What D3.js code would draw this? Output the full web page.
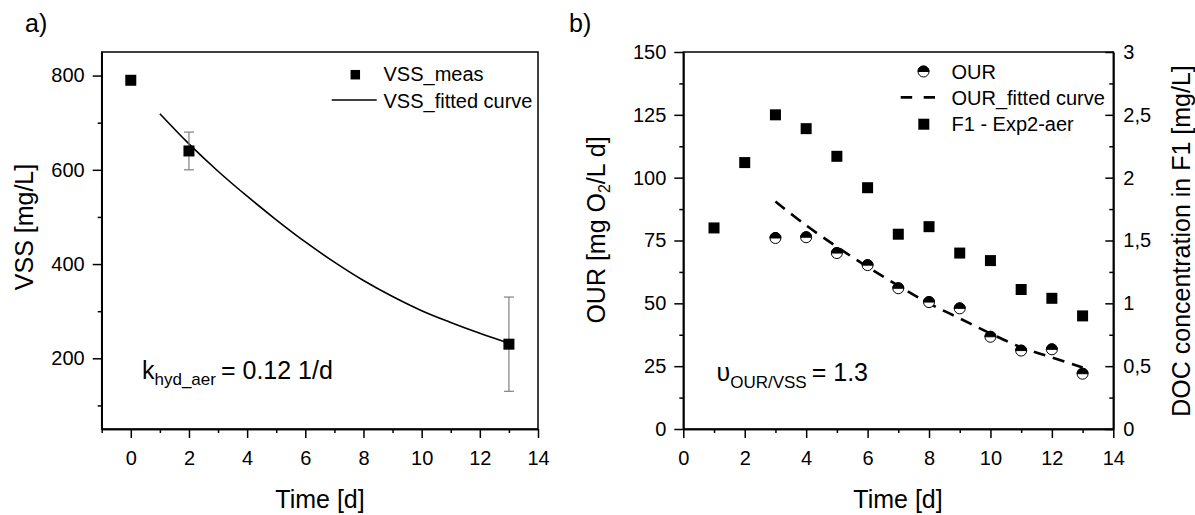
<!DOCTYPE html>
<html>
<head>
<meta charset="utf-8">
<script src="https://cdn.jsdelivr.net/npm/d3@7"></script>
<style>
  body { margin: 0; background: #fff; }
  text { font-family: "Liberation Sans", Arial, sans-serif; fill: #000; }
  .axis path, .axis line { stroke: #000; stroke-width: 1.5; }
  .axis text { font-size: 20px; font-family: "Liberation Sans", Arial, sans-serif; }
</style>
</head>
<body>
<div id="chart"></div>
<script>
// ---- panel a) : VSS ----
var vssTime = [0, 2, 13];
var vssMeas = [790, 640, 230];
var vssErr = [0, 40, 100];
var vssFitTime = [1, 2, 3, 4, 5, 6, 7, 8, 9, 10, 11, 12, 13];
var vssFit = [719, 655, 597, 544, 494, 447, 404, 365, 331, 301, 276, 253, 232];

// ---- panel b) : OUR and DOC ----
var ourTime = [3, 4, 5, 6, 7, 8, 9, 10, 11, 12, 13];
var ourMeas = [76, 76.3, 70, 65.2, 56, 50.5, 48, 36.7, 31.2, 31.7, 22];
var ourFit = [90.5, 81, 72.5, 64.5, 57, 50, 44, 38, 32.5, 28.5, 24.5];
var docTime = [1, 2, 3, 4, 5, 6, 7, 8, 9, 10, 11, 12, 13];
var docF1 = [1.6, 2.12, 2.5, 2.39, 2.17, 1.92, 1.55, 1.61, 1.4, 1.34, 1.11, 1.04, 0.9];

// tick labels
var timeTicks = [0, 2, 4, 6, 8, 10, 12, 14];
var vssTicks = [200, 400, 600, 800];
var ourTicks = [0, 25, 50, 75, 100, 125, 150];
var docTicks = [0, 0.5, 1, 1.5, 2, 2.5, 3];
var docTickLabels = ["0", "0,5", "1", "1,5", "2", "2,5", "3"];

var width = 1195, height = 515;
var plotTop = 52, plotBottom = 429;

var svg = d3.select("#chart").append("svg")
  .attr("width", width)
  .attr("height", height);

svg.append("rect").attr("width", width).attr("height", height).attr("fill", "#fff");

// draws the minor ticks of an axis
function minor(axisFn, scale, values, size) {
  return axisFn(scale).tickValues(values).tickSize(size).tickSizeOuter(0).tickFormat("");
}

function frame(x0, x1) {
  svg.append("rect")
    .attr("x", x0).attr("y", plotTop)
    .attr("width", x1 - x0).attr("height", plotBottom - plotTop)
    .attr("fill", "none").attr("stroke", "#000").attr("stroke-width", 1.5);
}

function square(g, cx, cy, s) {
  g.append("rect")
    .attr("x", cx - s / 2).attr("y", cy - s / 2)
    .attr("width", s).attr("height", s)
    .attr("fill", "#000");
}

function halfCircle(g, cx, cy, r) {
  g.append("circle").attr("cx", cx).attr("cy", cy).attr("r", r)
    .attr("fill", "#fff").attr("stroke", "#000").attr("stroke-width", 1);
  g.append("path")
    .attr("d", "M" + (cx - r) + "," + cy + " A" + r + "," + r + " 0 0 1 " + (cx + r) + "," + cy + " Z")
    .attr("fill", "#000").attr("stroke", "#000").attr("stroke-width", 1);
}

//================ panel a ================
var xA = d3.scaleLinear().domain([-1, 14]).range([101.7, 538]);
var yA = d3.scaleLinear().domain([50, 850]).range([plotBottom, plotTop]);

frame(101.7, 538);

svg.append("g").attr("class", "axis")
  .attr("transform", "translate(0," + plotBottom + ")")
  .call(d3.axisBottom(xA).tickValues(timeTicks).tickSize(9).tickSizeOuter(0).tickPadding(13));
svg.append("g").attr("class", "axis")
  .attr("transform", "translate(0," + plotBottom + ")")
  .call(minor(d3.axisBottom, xA, [-1, 1, 3, 5, 7, 9, 11, 13], 4));

svg.append("g").attr("class", "axis")
  .attr("transform", "translate(101.7,0)")
  .call(d3.axisLeft(yA).tickValues(vssTicks).tickSize(9).tickSizeOuter(0).tickPadding(8));
svg.append("g").attr("class", "axis")
  .attr("transform", "translate(101.7,0)")
  .call(minor(d3.axisLeft, yA, [100, 300, 500, 700], 4));

// fitted curve
var lineA = d3.line()
  .x(function(d, i) { return xA(vssFitTime[i]); })
  .y(function(d) { return yA(d); })
  .curve(d3.curveCatmullRom);
svg.append("path").datum(vssFit)
  .attr("d", lineA)
  .attr("fill", "none").attr("stroke", "#000").attr("stroke-width", 1.6);

// error bars
var errA = svg.append("g");
vssTime.forEach(function(t, i) {
  if (!vssErr[i]) return;
  var cx = xA(t);
  errA.append("line").attr("x1", cx).attr("x2", cx)
    .attr("y1", yA(vssMeas[i] - vssErr[i])).attr("y2", yA(vssMeas[i] + vssErr[i]));
  [vssMeas[i] - vssErr[i], vssMeas[i] + vssErr[i]].forEach(function(v) {
    errA.append("line").attr("x1", cx - 5).attr("x2", cx + 5).attr("y1", yA(v)).attr("y2", yA(v));
  });
});
errA.selectAll("line").attr("stroke", "#808080").attr("stroke-width", 1.2);

var ptsA = svg.append("g");
vssTime.forEach(function(t, i) { square(ptsA, xA(t), yA(vssMeas[i]), 11); });

// legend a
square(svg, 355.3, 74.7, 9.5);
svg.append("text").attr("x", 383.5).attr("y", 81).attr("font-size", 20).text("VSS_meas");
svg.append("line").attr("x1", 331.7).attr("x2", 376.7).attr("y1", 100).attr("y2", 100)
  .attr("stroke", "#000").attr("stroke-width", 1.5);
svg.append("text").attr("x", 383.5).attr("y", 108).attr("font-size", 20).text("VSS_fitted curve");

// annotation a
var kText = svg.append("text").attr("x", 142).attr("y", 379).attr("font-size", 25);
kText.append("tspan").text("k");
kText.append("tspan").attr("font-size", 17).attr("dy", 6).text("hyd_aer");
kText.append("tspan").attr("dy", -6).attr("dx", 5).text("= 0.12 1/d");

// axis titles a
svg.append("text").attr("x", 320).attr("y", 508).attr("text-anchor", "middle")
  .attr("font-size", 25).text("Time [d]");
svg.append("text").attr("transform", "translate(33,227) rotate(-90)")
  .attr("text-anchor", "middle").attr("font-size", 25).text("VSS [mg/L]");
svg.append("text").attr("x", 25).attr("y", 32).attr("font-size", 25).text("a)");

//================ panel b ================
var xB = d3.scaleLinear().domain([0, 14]).range([683.3, 1113.3]);
var yB = d3.scaleLinear().domain([0, 150]).range([plotBottom, plotTop]);
var yB2 = d3.scaleLinear().domain([0, 3]).range([plotBottom, plotTop]);

frame(683.3, 1113.3);

svg.append("g").attr("class", "axis")
  .attr("transform", "translate(0," + plotBottom + ")")
  .call(d3.axisBottom(xB).tickValues(timeTicks).tickSize(9).tickSizeOuter(0).tickPadding(13));
svg.append("g").attr("class", "axis")
  .attr("transform", "translate(0," + plotBottom + ")")
  .call(minor(d3.axisBottom, xB, [1, 3, 5, 7, 9, 11, 13], 4));

svg.append("g").attr("class", "axis")
  .attr("transform", "translate(683.3,0)")
  .call(d3.axisLeft(yB).tickValues(ourTicks).tickSize(9).tickSizeOuter(0).tickPadding(8));
svg.append("g").attr("class", "axis")
  .attr("transform", "translate(683.3,0)")
  .call(minor(d3.axisLeft, yB, [12.5, 37.5, 62.5, 87.5, 112.5, 137.5], 4));

svg.append("g").attr("class", "axis")
  .attr("transform", "translate(1113.3,0)")
  .call(d3.axisRight(yB2).tickValues(docTicks).tickSize(-8).tickSizeOuter(0).tickPadding(10)
    .tickFormat(function(d, i) { return docTickLabels[i]; }));
svg.append("g").attr("class", "axis")
  .attr("transform", "translate(1113.3,0)")
  .call(minor(d3.axisRight, yB2, [0.25, 0.75, 1.25, 1.75, 2.25, 2.75], -4));

// DOC squares
var ptsB = svg.append("g");
docTime.forEach(function(t, i) { square(ptsB, xB(t), yB2(docF1[i]), 11); });

// OUR fitted curve
var lineB = d3.line()
  .x(function(d, i) { return xB(ourTime[i]); })
  .y(function(d) { return yB(d); })
  .curve(d3.curveCatmullRom);
svg.append("path").datum(ourFit)
  .attr("d", lineB)
  .attr("fill", "none").attr("stroke", "#000").attr("stroke-width", 2.6)
  .attr("stroke-dasharray", "12,8");

// OUR points
var ourG = svg.append("g");
ourTime.forEach(function(t, i) { halfCircle(ourG, xB(t), yB(ourMeas[i]), 5.5); });

// legend b
halfCircle(svg, 923.5, 71.5, 5.5);
svg.append("text").attr("x", 951.5).attr("y", 78.5).attr("font-size", 20).text("OUR");
svg.append("line").attr("x1", 900.7).attr("x2", 935).attr("y1", 97.3).attr("y2", 97.3)
  .attr("stroke", "#000").attr("stroke-width", 2.8).attr("stroke-dasharray", "11.5,11.5");
svg.append("text").attr("x", 951.5).attr("y", 105).attr("font-size", 20).text("OUR_fitted curve");
square(svg, 923.8, 124.2, 11);
svg.append("text").attr("x", 951.5).attr("y", 130.5).attr("font-size", 20).text("F1 - Exp2-aer");

// annotation b
var uText = svg.append("text").attr("x", 716.5).attr("y", 381).attr("font-size", 25);
uText.append("tspan").text("υ");
uText.append("tspan").attr("font-size", 17).attr("dy", 7).text("OUR/VSS");
uText.append("tspan").attr("dy", -7).attr("dx", 5).text("= 1.3");

// axis titles b
svg.append("text").attr("x", 898).attr("y", 508).attr("text-anchor", "middle")
  .attr("font-size", 25).text("Time [d]");
var ourTitle = svg.append("text").attr("transform", "translate(605,230) rotate(-90)")
  .attr("text-anchor", "middle").attr("font-size", 25);
ourTitle.append("tspan").text("OUR [mg O");
ourTitle.append("tspan").attr("font-size", 16).attr("dy", 5).text("2");
ourTitle.append("tspan").attr("dy", -5).text("/L d]");
svg.append("text").attr("transform", "translate(1190,241) rotate(-90)")
  .attr("text-anchor", "middle").attr("font-size", 25).text("DOC concentration in F1 [mg/L]");
svg.append("text").attr("x", 569).attr("y", 32).attr("font-size", 25).text("b)");
</script>
</body>
</html>
